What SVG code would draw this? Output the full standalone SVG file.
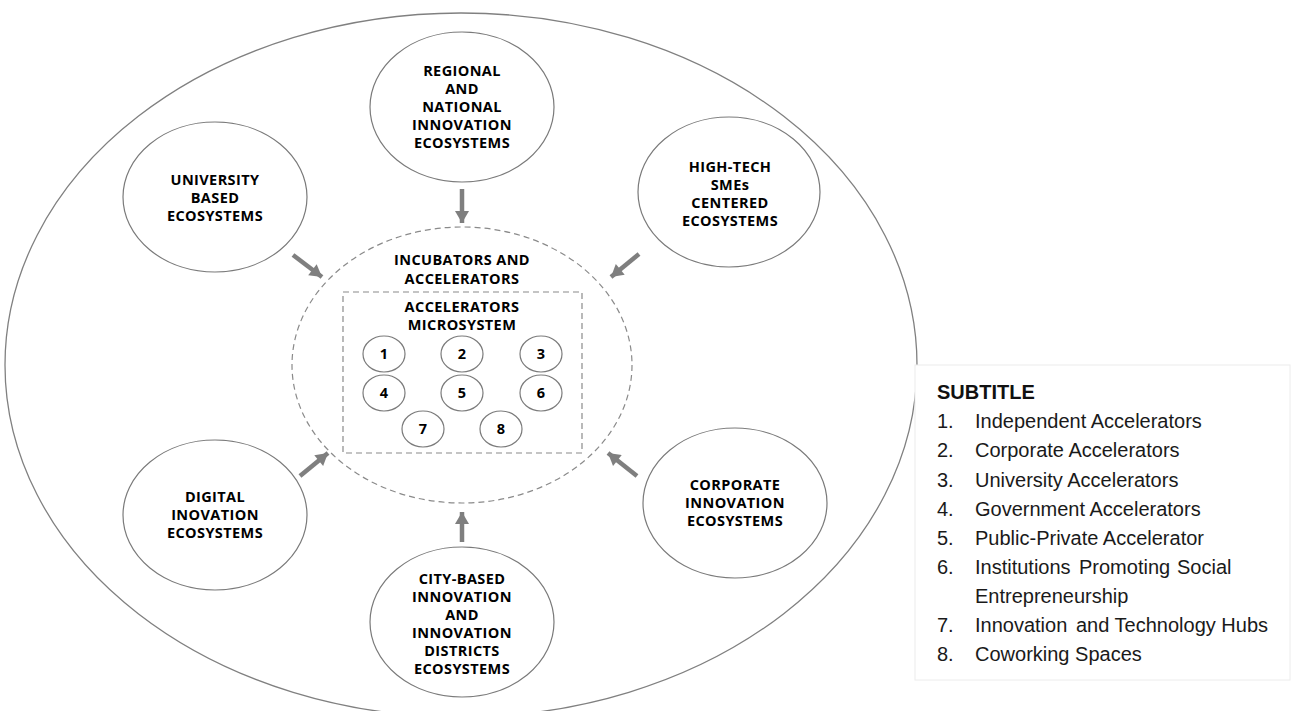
<svg xmlns="http://www.w3.org/2000/svg" width="1294" height="711" viewBox="0 0 1294 711">
  <style>
    .outline { fill: #ffffff; stroke: #808080; stroke-width: 1.3; }
    .node { fill: #ffffff; stroke: #7a7a7a; stroke-width: 1.2; }
    .small { fill: #ffffff; stroke: #7a7a7a; stroke-width: 1.2; }
    .dash { fill: none; stroke: #8a8a8a; stroke-width: 1.2; stroke-dasharray: 6 4; }
    .lbl { font-family: "Open Sans", "Noto Sans", "DejaVu Sans", sans-serif; font-weight: 700; font-size: 14.5px; letter-spacing: 0.4px; fill: #000000; text-anchor: middle; }
    .num { font-family: "Open Sans", "Noto Sans", "DejaVu Sans", sans-serif; font-weight: 700; font-size: 14.5px; fill: #000000; text-anchor: middle; }
    .arrow { stroke: #7f7f7f; stroke-width: 4.5; fill: none; marker-end: url(#head); }
    .leg { font-family: "Liberation Sans", Arial, sans-serif; font-size: 20px; fill: #1a1a1a; }
    .legtitle { font-family: "Liberation Sans", Arial, sans-serif; font-size: 20px; font-weight: 700; fill: #111111; }
  </style>
  <defs>
    <marker id="head" markerUnits="userSpaceOnUse" markerWidth="14" markerHeight="14" viewBox="0 0 12 14" refX="12" refY="7" orient="auto">
      <path d="M0,0 L12,7 L0,14 Z" fill="#7f7f7f"/>
    </marker>
  </defs>
  <rect width="1294" height="711" fill="#ffffff"/>

  <g id="outer-ecosystem">
    <ellipse class="outline" cx="461" cy="365" rx="456" ry="352"/>
  </g>

  <g id="incubators-accelerators">
    <ellipse class="dash" cx="462" cy="365" rx="170" ry="138"/>
    <text class="lbl" x="462" y="265">INCUBATORS AND</text>
    <text class="lbl" x="462" y="284">ACCELERATORS</text>
  </g>

  <g id="accelerators-microsystem">
    <rect class="dash" x="343" y="292" width="239" height="161"/>
    <text class="lbl" x="462" y="312">ACCELERATORS</text>
    <text class="lbl" x="462" y="330">MICROSYSTEM</text>
  </g>

  <g id="acc-1"><ellipse class="small" cx="384" cy="354" rx="21" ry="18"/><text class="num" x="384" y="359">1</text></g>
  <g id="acc-2"><ellipse class="small" cx="462" cy="354" rx="21" ry="18"/><text class="num" x="462" y="359">2</text></g>
  <g id="acc-3"><ellipse class="small" cx="541" cy="354" rx="21" ry="18"/><text class="num" x="541" y="359">3</text></g>
  <g id="acc-4"><ellipse class="small" cx="384" cy="393" rx="21" ry="18"/><text class="num" x="384" y="398">4</text></g>
  <g id="acc-5"><ellipse class="small" cx="462" cy="393" rx="21" ry="18"/><text class="num" x="462" y="398">5</text></g>
  <g id="acc-6"><ellipse class="small" cx="541" cy="393" rx="21" ry="18"/><text class="num" x="541" y="398">6</text></g>
  <g id="acc-7"><ellipse class="small" cx="423" cy="429" rx="21" ry="18"/><text class="num" x="423" y="434">7</text></g>
  <g id="acc-8"><ellipse class="small" cx="501" cy="429" rx="21" ry="18"/><text class="num" x="501" y="434">8</text></g>

  <g id="regional-national">
    <ellipse class="node" cx="462" cy="107" rx="92" ry="75"/>
    <text class="lbl" x="462" y="76">REGIONAL</text>
    <text class="lbl" x="462" y="94">AND</text>
    <text class="lbl" x="462" y="112">NATIONAL</text>
    <text class="lbl" x="462" y="130">INNOVATION</text>
    <text class="lbl" x="462" y="148">ECOSYSTEMS</text>
  </g>

  <g id="university-based">
    <ellipse class="node" cx="215" cy="197" rx="92" ry="75"/>
    <text class="lbl" x="215" y="185">UNIVERSITY</text>
    <text class="lbl" x="215" y="203">BASED</text>
    <text class="lbl" x="215" y="221">ECOSYSTEMS</text>
  </g>

  <g id="high-tech-smes">
    <ellipse class="node" cx="729" cy="192" rx="91" ry="75"/>
    <text class="lbl" x="730" y="172">HIGH-TECH</text>
    <text class="lbl" x="730" y="190">SMEs</text>
    <text class="lbl" x="730" y="208">CENTERED</text>
    <text class="lbl" x="730" y="226">ECOSYSTEMS</text>
  </g>

  <g id="digital-inovation">
    <ellipse class="node" cx="215" cy="515" rx="92" ry="75"/>
    <text class="lbl" x="215" y="502">DIGITAL</text>
    <text class="lbl" x="215" y="520">INOVATION</text>
    <text class="lbl" x="215" y="538">ECOSYSTEMS</text>
  </g>

  <g id="corporate-innovation">
    <ellipse class="node" cx="735" cy="503" rx="92" ry="75"/>
    <text class="lbl" x="735" y="490">CORPORATE</text>
    <text class="lbl" x="735" y="508">INNOVATION</text>
    <text class="lbl" x="735" y="526">ECOSYSTEMS</text>
  </g>

  <g id="city-based">
    <ellipse class="node" cx="462" cy="622" rx="92" ry="75"/>
    <text class="lbl" x="462" y="584">CITY-BASED</text>
    <text class="lbl" x="462" y="602">INNOVATION</text>
    <text class="lbl" x="462" y="620">AND</text>
    <text class="lbl" x="462" y="638">INNOVATION</text>
    <text class="lbl" x="462" y="656">DISTRICTS</text>
    <text class="lbl" x="462" y="674">ECOSYSTEMS</text>
  </g>

  <g id="connectors">
    <line class="arrow" x1="462" y1="189" x2="462" y2="223"/>
    <line class="arrow" x1="639" y1="254" x2="611" y2="277"/>
    <line class="arrow" x1="293" y1="255" x2="322" y2="277"/>
    <line class="arrow" x1="300" y1="476" x2="328" y2="453"/>
    <line class="arrow" x1="637" y1="476" x2="608" y2="453"/>
    <line class="arrow" x1="462" y1="542" x2="462" y2="512"/>
  </g>

  <g id="legend">
    <rect x="915" y="365" width="375" height="315" fill="#ffffff" stroke="#ececec" stroke-width="1"/>
    <text class="legtitle" x="937" y="399">SUBTITLE</text>
    <text class="leg" x="937" y="428">1.</text><text class="leg" x="975" y="428">Independent Accelerators</text>
    <text class="leg" x="937" y="457">2.</text><text class="leg" x="975" y="457">Corporate Accelerators</text>
    <text class="leg" x="937" y="487">3.</text><text class="leg" x="975" y="487">University Accelerators</text>
    <text class="leg" x="937" y="516">4.</text><text class="leg" x="975" y="516">Government Accelerators</text>
    <text class="leg" x="937" y="545">5.</text><text class="leg" x="975" y="545">Public-Private Accelerator</text>
    <text class="leg" x="937" y="574">6.</text><text class="leg" x="975" y="574">Institutions <tspan x="1079">Promoting</tspan> <tspan x="1177">Social</tspan></text>
    <text class="leg" x="975" y="603">Entrepreneurship</text>
    <text class="leg" x="937" y="632">7.</text><text class="leg" x="975" y="632">Innovation <tspan x="1076">and</tspan> Technology Hubs</text>
    <text class="leg" x="937" y="661">8.</text><text class="leg" x="975" y="661">Coworking Spaces</text>
  </g>
</svg>
